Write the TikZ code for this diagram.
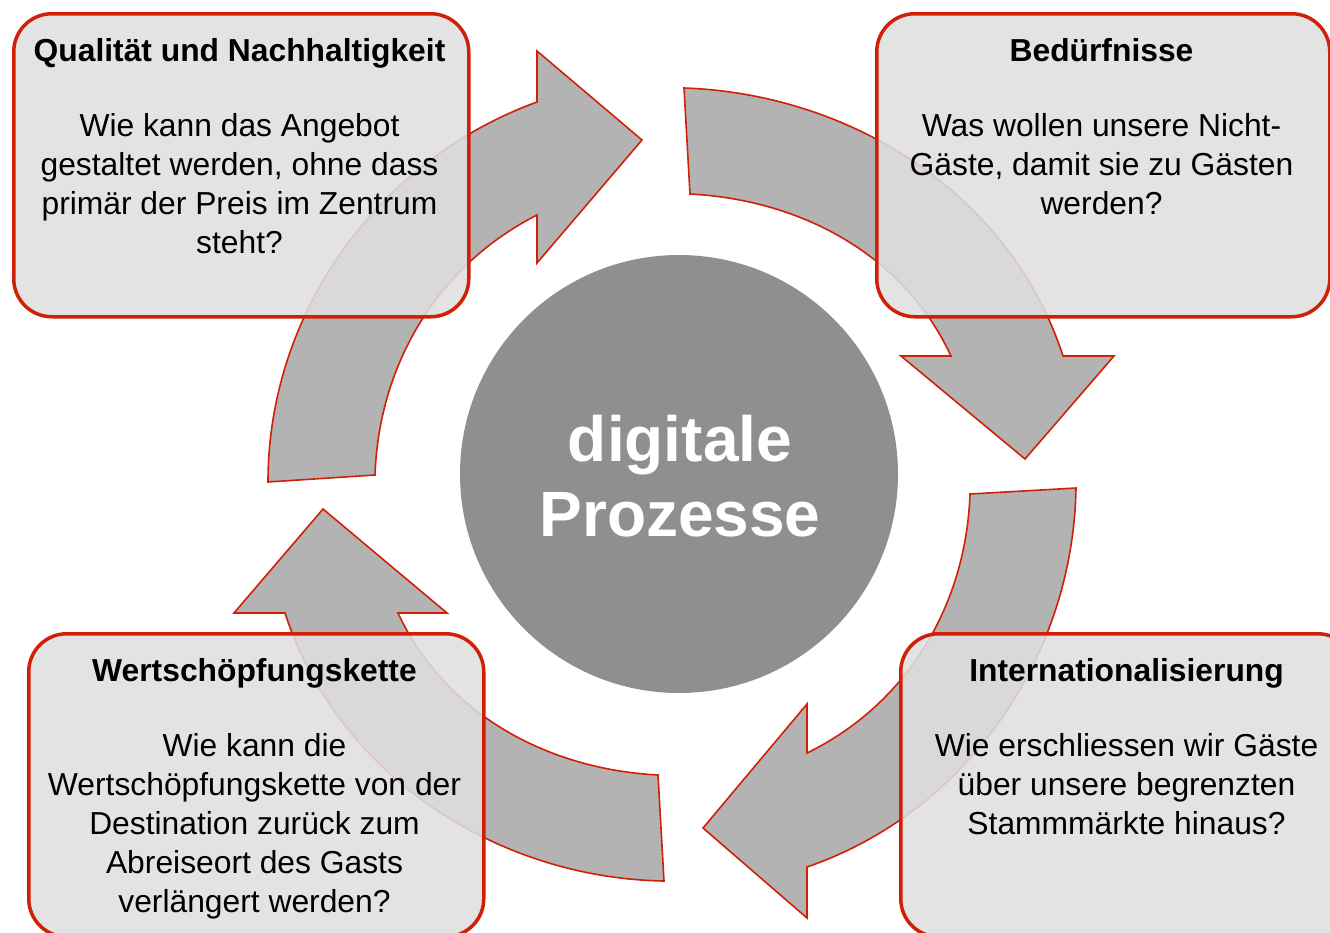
\documentclass[tikz,border=0pt]{standalone}
\usepackage{fontspec}
\setmainfont{Liberation Sans}
\definecolor{framered}{RGB}{208,32,8}
\definecolor{arrowgray}{RGB}{179,179,179}
\definecolor{coregray}{RGB}{143,143,143}
\definecolor{boxgray}{RGB}{223,223,223}
\begin{document}
\begin{tikzpicture}[x=1pt,y=1pt,
  cyclearrow/.style={fill=arrowgray, draw=framered, line width=1.6pt, line join=miter, looseness=0.93},
  infobox/.style={rounded corners=38pt, fill=boxgray, fill opacity=0.87, draw=framered,
    line width=3.5pt, anchor=north west, minimum width=455pt, minimum height=303pt, inner sep=0pt},
  boxtext/.style={align=center, inner sep=0pt, anchor=north, text=black,
    font=\fontsize{31.8}{39}\selectfont},
  coretext/.style={align=center, inner sep=0pt, anchor=north, text=white,
    font=\fontsize{64}{75}\selectfont\bfseries}]
\useasboundingbox (0,-932) rectangle (1330,0);
\clip (0,-932) rectangle (1330,0);

% four curved arrows running clockwise around the centre
\draw[cyclearrow] (268,-482) to[out=90,in=200] (537,-102) -- (537,-51) -- (642,-140)
  -- (537,-263) -- (537,-215) to[out=207,in=88] (375,-475) -- cycle;
\draw[cyclearrow] (684,-88) to[out=-2,in=108] (1063,-356) -- (1114,-356) -- (1025,-459)
  -- (901,-356) -- (951,-356) to[out=115,in=-3] (690,-194) -- cycle;
\draw[cyclearrow] (1076,-488) to[out=-91,in=19] (807,-867) -- (807,-918) -- (703,-828)
  -- (807,-704) -- (807,-753) to[out=26,in=-92] (970,-494) -- cycle;
\draw[cyclearrow] (664,-881) to[out=179,in=288] (285,-613) -- (234,-613) -- (323,-509)
  -- (447,-613) -- (398,-613) to[out=295,in=177] (658,-775) -- cycle;

% central disc
\node[circle, fill=coregray, minimum size=438pt, inner sep=0pt] (core) at (679,-474) {};
\node[coretext] (coretitle) at (680,-415) {digitale\\Prozesse};

% translucent question boxes
\node[infobox] (qbox) at (12,-12) {};
\node[infobox, minimum width=453pt] (bbox) at (875,-12) {};
\node[infobox] (ibox) at (899,-632) {};
\node[infobox] (wbox) at (27,-632) {};

\node[boxtext] (qtext) at (239.5,-38) {\textbf{Qualität und Nachhaltigkeit}\\[36pt]
  Wie kann das Angebot\\ gestaltet werden, ohne dass\\ primär der Preis im Zentrum\\ steht?};
\node[boxtext] (btext) at (1101.5,-38) {\textbf{Bedürfnisse}\\[36pt]
  Was wollen unsere Nicht-\\ Gäste, damit sie zu Gästen\\ werden?};
\node[boxtext] (itext) at (1126.5,-658) {\textbf{Internationalisierung}\\[36pt]
  Wie erschliessen wir Gäste\\ über unsere begrenzten\\ Stammmärkte hinaus?};
\node[boxtext] (wtext) at (254.5,-658) {\textbf{Wertschöpfungskette}\\[36pt]
  Wie kann die\\ Wertschöpfungskette von der\\ Destination zurück zum\\ Abreiseort des Gasts\\ verlängert werden?};
\end{tikzpicture}
\end{document}
